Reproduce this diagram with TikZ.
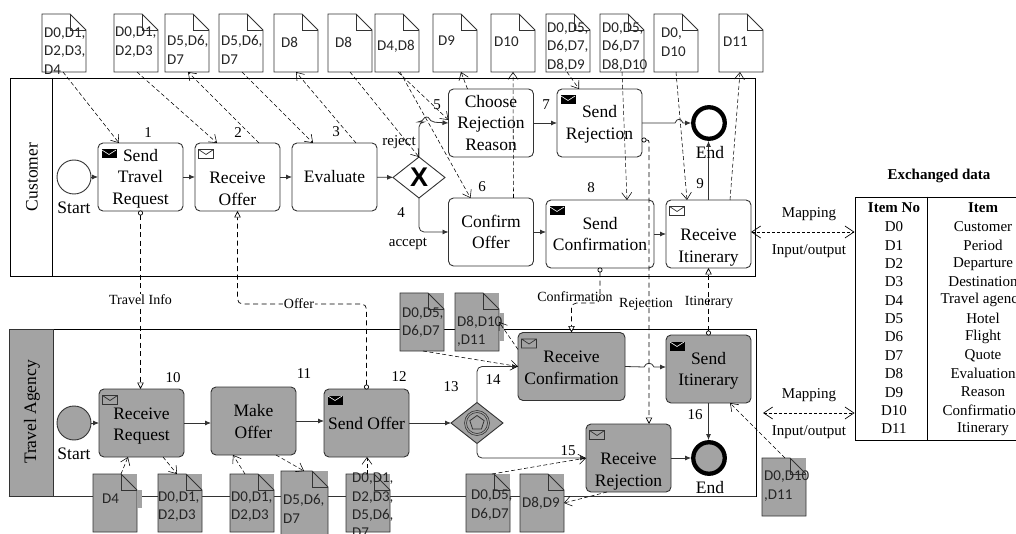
\documentclass[tikz,border=0pt]{standalone}
\usepackage{fontspec}
\setmainfont{Liberation Serif}
\newfontfamily\docfont{Carlito}
\newfontfamily\gatefont{Liberation Sans}
\usetikzlibrary{arrows.meta,shapes.geometric}
\definecolor{PoolGray}{HTML}{A3A3A3}
\definecolor{EdgeGray}{HTML}{333333}
\newcommand{\lineroom}[1]{\rule{0pt}{#1pt}}
\tikzset{
  taskbox/.style={draw=EdgeGray,line width=0.9pt,rounded corners=5pt,minimum width=85,minimum height=68,
    inner sep=0pt,outer sep=0pt,align=center,font=\fontsize{17.5}{21.7}\selectfont},
  gatewaybox/.style={draw=EdgeGray,line width=0.9pt,diamond,shape aspect=1.27,minimum width=52,minimum height=41,
    inner sep=0pt,outer sep=0pt},
  docframe/.style={anchor=north west,minimum width=44,minimum height=58,inner sep=0pt,outer sep=0pt},
  docline/.style={draw=EdgeGray,line width=0.8pt,line join=miter},
  doctext/.style={anchor=west,align=left,inner sep=0pt,text=black!85,font=\docfont\fontsize{15}{18.4}\selectfont},
  numlabel/.style={inner sep=0pt,font=\fontsize{15}{18}\selectfont},
  flowlabel/.style={inner sep=1pt,font=\fontsize{14}{17}\selectfont},
  plainlabel/.style={inner sep=0pt,font=\fontsize{15}{18}\selectfont},
  biglabel/.style={inner sep=0pt,font=\fontsize{17.5}{21}\selectfont},
  seqflow/.style={draw=EdgeGray,line width=0.8pt,-{Latex[length=6pt,width=5pt]}},
  dataflow/.style={line width=0.55pt,dash pattern=on 4pt off 2.5pt,-{Straight Barb[length=7pt,width=10pt]}},
  msgflow/.style={line width=0.7pt,dash pattern=on 5pt off 3.5pt,{Circle[length=5pt,fill=white,sep=-0.5pt]}-{Triangle[length=6.5pt,width=6.5pt,fill=white]}},
  mapflow/.style={line width=0.7pt,dash pattern=on 3pt off 2pt,{Straight Barb[length=9pt,width=12pt]}-{Straight Barb[length=9pt,width=12pt]}},
  mailblack/.pic={\fill[black] (0,0) rectangle (15,9);
    \draw[white,line width=0.6pt] (0.6,0.6)--(7.5,5)--(14.4,0.6);},
  mailwhite/.pic={\draw[EdgeGray,line width=0.7pt] (0,0) rectangle (15,9) (0,0)--(7.5,5)--(15,0);}
}
\newcommand{\datadoc}[6][fill=white]{%
  \node[docframe,#1] (#2) at (#3,#4) {};
  \draw[docline,#1] (#2.north west) -- ([xshift=-16pt]#2.north east) -- ([yshift=-16pt]#2.north east)
    -- (#2.south east) -- (#2.south west) -- cycle;
  \draw[docline] ([xshift=-16pt]#2.north east) |- ([yshift=-16pt]#2.north east);
  \node[doctext] (#2txt) at (#5) {#6};
}
\begin{document}
\begin{tikzpicture}[x=1pt,y=-1pt]
  \useasboundingbox (0,0) rectangle (1016,534);
  % the two pools
  \node[draw,line width=0.9pt,minimum width=745,minimum height=198,inner sep=0pt] (poolCust) at (382.5,177) {};
  \draw[line width=0.9pt] ([xshift=43pt]poolCust.north west) -- ([xshift=43pt]poolCust.south west);
  \node[biglabel,rotate=90] (lblCust) at (32,177) {Customer};
  \node[draw,line width=0.9pt,minimum width=747,minimum height=167,inner sep=0pt] (poolAgency) at (382.5,412.5) {};
  \draw[EdgeGray,line width=1.3pt] (poolAgency.south west) -- (poolAgency.south east);
  \node[draw=EdgeGray,fill=PoolGray,line width=0.9pt,minimum width=44,minimum height=167,inner sep=0pt] (headAgency) at (31,412.5) {};
  \node[biglabel,rotate=90] (lblAgency) at (32,412) {Travel Agency};

  % data documents, customer side
  \datadoc{c1}{42}{14}{44,51}{D0,D1,\\D2,D3,\\D4}
  \datadoc{c2}{114}{14}{115,42}{D0,D1,\\D2,D3}
  \datadoc{c3}{165}{14}{167,50}{D5,D6,\\D7}
  \datadoc{c4}{219}{14}{221,50}{D5,D6,\\D7}
  \datadoc{c5}{274}{14}{281,42}{D8}
  \datadoc{c6}{328}{14}{335,42}{D8}
  \datadoc{c7}{375}{14}{377,46}{D4,D8}
  \datadoc{c8}{433}{14}{438,41}{D9}
  \datadoc{c9}{491}{14}{494,42}{D10}
  \datadoc{c10}{546}{14}{547,47}{D0,D5,\\D6,D7,\\D8,D9}
  \datadoc{c11}{600}{14}{602,47}{D0,D5,\\D6,D7\\D8,D10}
  \datadoc{c12}{654}{14}{661,42}{D0,\\D10}
  \datadoc{c13}{719}{14}{723,42}{D11}

  % data documents, agency side
  \datadoc[fill=PoolGray]{a1}{93}{474}{102,499}{D4}
  \node[fill=PoolGray,inner sep=0pt,minimum width=5.5,minimum height=18] (patchA) at (139.5,499) {};
  \datadoc[fill=PoolGray]{a2}{158}{474}{158,506.5}{D0,D1,\\D2,D3}
  \datadoc[fill=PoolGray]{a3}{230}{474}{231,506.5}{D0,D1,\\D2,D3}
  \datadoc[fill=PoolGray,minimum width=47,minimum height=70]{a4}{281}{471}{283,509}{D5,D6,\\D7}
  \datadoc[fill=PoolGray]{a5}{346}{474}{352,505.5}{D0,D1,\\D2,D3,\\D5,D6,\\D7}
  \datadoc[fill=PoolGray]{a6}{466}{474}{471,505}{D0,D5,\\D6,D7}
  \datadoc[fill=PoolGray]{a7}{520}{474}{522,503}{D8,D9}
  \datadoc[fill=PoolGray]{a8}{400}{293}{402,322.5}{D0,D5,\\D6,D7}
  \datadoc[fill=PoolGray]{a9}{455}{293}{457,331.5}{}
  \node[fill=PoolGray,inner sep=0pt,minimum width=5.5,minimum height=28] (patchB) at (501.5,327) {};
  \node[doctext] (a9label) at (457,331.5) {D8,D10\\,D11};
  \datadoc[fill=PoolGray]{a10}{762}{458}{764,486}{D0,D10\\,D11}

  % customer process
  \node[draw=EdgeGray,line width=0.9pt,circle,minimum size=34,inner sep=0pt,outer sep=0pt] (startCust) at (74,177) {};
  \node[taskbox] (sendReq) at (140.5,177) {\lineroom{15.6}Send\\Travel\\Request};
  \node[taskbox] (recvOffer) at (237.5,177) {\lineroom{13.5}\\Receive\\Offer};
  \node[taskbox] (evalOffer) at (334.5,177) {Evaluate};
  \node[gatewaybox,fill=white] (gwReject) at (419,177.5) {\gatefont\fontsize{27}{27}\selectfont\bfseries X};
  \node[taskbox] (chooseReason) at (491,123) {Choose\\Rejection\\Reason};
  \node[taskbox] (confirmOffer) at (491,232) {Confirm\\Offer};
  \node[taskbox] (sendReject) at (599.5,123) {\lineroom{14.6}Send\\Rejection};
  \node[taskbox,minimum width=108] (sendConfirm) at (600,234) {Send\\Confirmation};
  \node[taskbox] (recvItin) at (708.5,234) {\lineroom{17.5}\\Receive\\Itinerary};
  \node[draw=black,line width=4.3pt,circle,minimum size=31.5,inner sep=0pt] (endCust) at (709,123) {};

  % agency process
  \node[draw=EdgeGray,fill=PoolGray,line width=0.9pt,circle,minimum size=34,inner sep=0pt,outer sep=0pt] (startAgency) at (74,423) {};
  \node[taskbox,fill=PoolGray] (recvReq) at (141.5,423) {\lineroom{17.7}Receive\\Request};
  \node[taskbox,fill=PoolGray] (makeOffer) at (253.5,421) {\lineroom{13.7}Make\\Offer};
  \node[taskbox,fill=PoolGray] (sendOffer) at (366.5,423) {Send Offer};
  \node[gatewaybox,fill=PoolGray] (gwEvent) at (477,423) {};
  \draw[EdgeGray,line width=0.6pt] (gwEvent) circle[radius=12.5pt] (gwEvent) circle[radius=10.5pt];
  \node[draw=EdgeGray,line width=0.8pt,regular polygon,regular polygon sides=5,minimum size=15,inner sep=0pt] (gwPenta) at (477,423) {};
  \node[taskbox,fill=PoolGray,minimum width=107] (recvConfirm) at (571.5,366.5) {\lineroom{13.7}Receive\\Confirmation};
  \node[taskbox,fill=PoolGray] (sendItin) at (708.5,369) {\lineroom{15.6}Send\\Itinerary};
  \node[taskbox,fill=PoolGray] (recvReject) at (628.5,458) {\lineroom{16.5}\\Receive\\Rejection};
  \node[draw=black,fill=PoolGray,line width=4.3pt,circle,minimum size=31.5,inner sep=0pt] (endAgency) at (709,458) {};

  % mail markers
  \foreach \t in {sendReq,sendReject,sendConfirm,sendOffer,sendItin}
    \pic at ([xshift=3.5pt,yshift=-6.5pt]\t.north west) {mailblack};
  \foreach \t in {recvOffer,recvItin,recvReq,recvConfirm,recvReject}
    \pic at ([xshift=3.5pt,yshift=-6.5pt]\t.north west) {mailwhite};

  % sequence flows
  \draw[seqflow] (startCust) -- (sendReq);
  \draw[seqflow] (sendReq) -- (recvOffer);
  \draw[seqflow] (recvOffer) -- (evalOffer);
  \draw[seqflow] (evalOffer) -- (gwReject);
  \coordinate (hopReject) at (423,122);
  \draw[seqflow,rounded corners=5pt] (gwReject.north) |- (hopReject)
    .. controls +(2,-5) and +(-2,-5) .. ++(7,0) -- (chooseReason.west);
  \draw[seqflow,rounded corners=5pt] (gwReject.south) |- (confirmOffer.west);
  \draw[seqflow] (chooseReason) -- (sendReject);
  \draw[seqflow] (confirmOffer.east) -- (confirmOffer.east -| sendConfirm.west);
  \draw[seqflow] (sendConfirm) -- (recvItin);
  \draw[seqflow] (recvItin.north) -- (recvItin.north |- endCust.south);
  \coordinate (hopEnd) at (675,123);
  \draw[seqflow] (sendReject.east) -- (hopEnd)
    .. controls +(2,-5) and +(-2,-5) .. ++(8,0) -- (endCust.west);
  \draw[seqflow] (startAgency) -- (recvReq);
  \draw[seqflow] (recvReq.east) -- (recvReq.east -| makeOffer.west);
  \draw[seqflow] (makeOffer.east) -- (makeOffer.east -| sendOffer.west);
  \draw[seqflow] (sendOffer) -- (gwEvent);
  \draw[seqflow,rounded corners=5pt] (gwEvent.north) |- (recvConfirm.west);
  \draw[seqflow,rounded corners=5pt] (gwEvent.south) |- (recvReject.west);
  \coordinate (hopItin) at (644,367);
  \draw[seqflow] (recvConfirm.east) -- (hopItin)
    .. controls +(2,-5) and +(-2,-5) .. ++(10,0) -- (hopItin -| sendItin.west);
  \draw[seqflow] (sendItin.south) -- (sendItin.south |- endAgency.north);
  \draw[seqflow] (recvReject) -- (endAgency);

  % data flows, customer side
  \draw[dataflow] ([xshift=21pt]c1.south west) -- ([xshift=21pt]sendReq.north west);
  \draw[dataflow] ([xshift=23pt]c2.south west) -- ([xshift=22pt]recvOffer.north west);
  \draw[dataflow] ([xshift=64pt]recvOffer.north west) -- ([xshift=23pt]c3.south west);
  \draw[dataflow] ([xshift=23pt]c4.south west) -- ([xshift=21pt]evalOffer.north west);
  \draw[dataflow] ([xshift=64pt]evalOffer.north west) -- ([xshift=22pt]c5.south west);
  \draw[dataflow] ([xshift=22pt]c6.south west) -- (gwReject.north);
  \draw[dataflow] ([xshift=23pt]c7.south west) -- ([yshift=3pt]chooseReason.west);
  \draw[dataflow] ([xshift=25pt]c7.south west) -- ([xshift=22pt]confirmOffer.north west);
  \draw[dataflow] ([xshift=19pt]chooseReason.north west) -- ([xshift=28pt]c8.south west);
  \draw[dataflow] ([xshift=65pt]confirmOffer.north west) -- ([xshift=22pt]c9.south west);
  \draw[dataflow] ([xshift=21pt]c10.south west) -- ([xshift=22pt]sendReject.north west);
  \draw[dataflow] ([xshift=22pt]c11.south west) -- ([xshift=81pt]sendConfirm.north west);
  \draw[dataflow] ([xshift=22pt]c12.south west) -- ([xshift=21pt]recvItin.north west);
  \draw[dataflow] ([xshift=64pt]recvItin.north west) -- ([xshift=21pt]c13.south west);

  % data flows, agency side
  \draw[dataflow] ([xshift=28pt]a1.north west) -- ([xshift=29pt]recvReq.south west);
  \draw[dataflow] ([xshift=64pt]recvReq.south west) -- ([xshift=19pt]a2.north west);
  \draw[dataflow] ([xshift=15pt]a3.north west) -- ([xshift=22pt]makeOffer.south west);
  \draw[dataflow] ([xshift=65pt]makeOffer.south west) -- ([xshift=23pt]a4.north west);
  \draw[dataflow] ([xshift=21pt]a5.north west) -- ([xshift=43pt]sendOffer.south west);
  \draw[dataflow] ([xshift=26pt]a6.north west) -- (recvReject.west);
  \draw[dataflow] ([xshift=23pt]a8.south west) -- (recvConfirm.west);
  \draw[dataflow] ([yshift=17pt]recvConfirm.west) -- (a9.east);
  \draw[dataflow] ([xshift=21pt]recvReject.south west) -- (a7.east);
  \draw[dataflow] ([xshift=23pt]a10.north west) -- ([xshift=64pt]sendItin.south west);

  % message flows
  \draw[msgflow] (sendReq.south) -- (sendReq.south |- recvReq.north)
    node[flowlabel,fill=white,midway] (lblInfo) {Travel Info};
  \coordinate (offerMid) at (299,304);
  \draw[msgflow,rounded corners=5pt] (sendOffer.north) |- (offerMid) -| (recvOffer.south);
  \node[flowlabel,fill=white] (lblOffer) at (offerMid) {Offer};
  \coordinate (confirmMid) at (586,303);
  \draw[msgflow,rounded corners=5pt] (sendConfirm.south) |- (confirmMid) -| (recvConfirm.north);
  \node[flowlabel] (lblConfirm) at (575,297) {Confirmation};
  \draw[msgflow,rounded corners=2pt] ([yshift=-17pt]sendReject.east) -| ([xshift=63pt]recvReject.north west);
  \node[flowlabel] (lblReject) at (646,304) {Rejection};
  \draw[msgflow] (sendItin.north) -- (recvItin.south);
  \node[flowlabel] (lblItin) at (709,302) {Itinerary};

  % step numbers
  \foreach \n/\x/\y in {1/148/133,2/238/133,3/336/132,4/401/213,5/437/105,6/482/187,7/546/105,8/591/188,
    9/700/184,10/173/378,11/304/374,12/399/377,13/451/387,14/493/380,15/568/451,16/695/415}
    \node[numlabel] (num\n) at (\x,\y) {\n};
  \node[plainlabel] (lblRejectGw) at (399,142) {reject};
  \node[plainlabel] (lblAccept) at (408,244) {accept};
  \node[biglabel] (lblStartA) at (74,208) {Start};
  \node[biglabel] (lblStartB) at (74,454) {Start};
  \node[biglabel] (lblEndA) at (710,153) {End};
  \node[biglabel] (lblEndB) at (710,488) {End};

  % exchanged data table
  \node[plainlabel,font=\fontsize{15}{18}\selectfont\bfseries] (tableTitle) at (939,176) {Exchanged data};
  \node[draw,line width=0.8pt,minimum width=185,minimum height=243,inner sep=0pt] (tableBox) at (947.5,318.5) {};
  \draw[line width=0.8pt] ([xshift=73pt]tableBox.north west) -- ([xshift=73pt]tableBox.south west);
  \node[plainlabel,font=\fontsize{15}{18}\selectfont\bfseries] (headNo) at (894,208) {Item No};
  \node[plainlabel,font=\fontsize{15}{18}\selectfont\bfseries] (headItem) at (983,208) {Item};
  \foreach \no/\itemname [count=\r from 0] in {D0/Customer,D1/Period,D2/Departure,D3/Destination,D4/Travel agency,
    D5/Hotel,D6/Flight,D7/Quote,D8/Evaluation,D9/Reason,D10/Confirmation,D11/Itinerary}{
    \pgfmathsetmacro{\rowy}{227+18.35*\r}
    \node[plainlabel] (no\r) at (894,\rowy) {\no};
    \node[plainlabel] (item\r) at (983,\rowy) {\itemname};
  }

  % mapping arrows
  \draw[mapflow] ([yshift=2pt]recvItin.east) -- ([yshift=2pt]recvItin.east -| tableBox.west);
  \coordinate (mapAgency) at (763,413);
  \draw[mapflow] (mapAgency) -- (mapAgency -| tableBox.west);
  \node[plainlabel] (mapA) at (809,214) {Mapping};
  \node[plainlabel] (ioA) at (809,251) {Input/output};
  \node[plainlabel] (mapB) at (809,395) {Mapping};
  \node[plainlabel] (ioB) at (809,432) {Input/output};
\end{tikzpicture}
\end{document}
